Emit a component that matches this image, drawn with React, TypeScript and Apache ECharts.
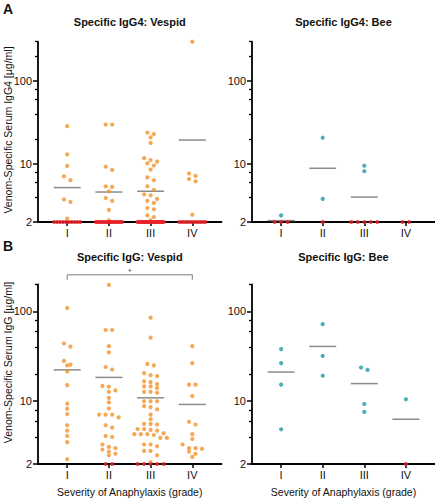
import React, { useEffect, useRef } from "react";
import * as echarts from "echarts";

const grades = ["I", "II", "III", "IV"];
const detectionLimit = 2;

// Panel A left: Specific IgG4 Vespid (values above detection limit)
const igg4VespidI = [28.7, 13.1, 9.5, 7.1, 6.4, 3.75, 3.5, 2.2];
const igg4VespidII = [30, 30, 9.3, 8.5, 5.4, 5.3, 4.7, 3.9, 3.6, 2.8, 2.1];
const igg4VespidIII = [24, 23, 21, 18, 11.8, 11.2, 10.7, 10.2, 9.6, 8.6, 6.9, 6.4, 5.4, 4.9, 4.3, 4.2, 3.8, 3.6, 3.4, 2.95, 2.85, 2.4, 2.3, 2.1];
const igg4VespidIV = [300, 7.7, 7.2, 6.6, 6.2, 2.45];
const igg4VespidBelow = [10, 20, 30, 12];
const igg4VespidMean = [5.2, 4.6, 4.7, 19.5];

// Panel A right: Specific IgG4 Bee
const igg4BeeI = [2.4];
const igg4BeeII = [20.8, 3.8];
const igg4BeeIII = [9.55, 8.2];
const igg4BeeIV: number[] = [];
const igg4BeeBelow = [3, 1, 5, 2];
const igg4BeeMean = [2.08, 8.9, 4.0, null];

// Panel B left: Specific IgG Vespid
const iggVespidI = [109, 44, 40.5, 28.1, 25.5, 25, 21.4, 15.1, 9.4, 8.25, 7.2, 5.4, 4.7, 4.1, 3.5, 2.26];
const iggVespidII = [197, 62, 62, 41, 35, 24, 22.5, 14.8, 14.5, 13.2, 12.7, 10.9, 9.7, 8.3, 7.1, 7.1, 7.1, 6.6, 5.4, 5.1, 4.1, 4.0, 3.3, 3.1, 3.0, 2.9, 2.75, 2.6, 2.5];
const iggVespidIII = [85, 51, 26, 25, 20.5, 19.5, 19, 16.6, 16.3, 15.5, 14.6, 14.6, 14, 12.7, 12.7, 12.4, 10, 10, 10, 8.8, 8.6, 8.1, 7.1, 6.3, 5.6, 5.6, 5.5, 4.9, 4.9, 4.8, 4.7, 4.4, 4.3, 4.3, 4.3, 4.2, 3.9, 3.9, 3.3, 3.3, 3.15, 2.8, 2.8, 2.5, 2.1];
const iggVespidIV = [41, 26.5, 15.3, 15.3, 11.4, 5.9, 5.5, 4.3, 3.8, 3.3, 3.0, 3.0, 2.95, 2.75, 2.6, 2.4];
const iggVespidBelow = [0, 2, 5, 0];
const iggVespidMean = [22.3, 18.4, 10.9, 9.2];

// Panel B right: Specific IgG Bee
const iggBeeI = [38, 26.5, 15.3, 4.87];
const iggBeeII = [72, 31.9, 19.2];
const iggBeeIII = [23.7, 22.3, 9.3, 7.6];
const iggBeeIV = [10.5];
const iggBeeBelow = [0, 0, 0, 1];
const iggBeeMean = [21.1, 40.7, 15.7, 6.3];

// Significance bracket (grade I vs IV, IgG Vespid)
const sigFrom = 1;
const sigTo = 4;
const sigLevel = 255;
const sigLabel = "*";

const yMajorTicks = [2, 10, 100];
const yMinorTicksTop = [4, 6, 8, 20, 40, 60, 80, 200, 300];
const yMinorTicksBottom = [4, 6, 8, 20, 40, 60, 80, 200];
const xTicks = [1, 2, 3, 4];

const ORANGE = "#F2922C";
const TEAL = "#1E9AA2";
const RED = "#E8232B";
const MEAN = "#6e6e6e";
const TEXT = "#111111";
const FONT = "'Liberation Sans', Arial, sans-serif";

const xMin = 0.3;
const xMax = 4.7;

const panels = [
  { title: "Specific IgG4: Vespid", values: [igg4VespidI, igg4VespidII, igg4VespidIII, igg4VespidIV], below: igg4VespidBelow, means: igg4VespidMean, color: ORANGE, max: 300, minor: yMinorTicksTop },
  { title: "Specific IgG4: Bee", values: [igg4BeeI, igg4BeeII, igg4BeeIII, igg4BeeIV], below: igg4BeeBelow, means: igg4BeeMean, color: TEAL, max: 300, minor: yMinorTicksTop },
  { title: "Specific IgG: Vespid", values: [iggVespidI, iggVespidII, iggVespidIII, iggVespidIV], below: iggVespidBelow, means: iggVespidMean, color: ORANGE, max: 200, minor: yMinorTicksBottom },
  { title: "Specific IgG: Bee", values: [iggBeeI, iggBeeII, iggBeeIII, iggBeeIV], below: iggBeeBelow, means: iggBeeMean, color: TEAL, max: 200, minor: yMinorTicksBottom },
];

const layouts = [
  { left: 38, top: 41.7, width: 183.5, height: 180.3, titleY: 22 },
  { left: 252, top: 41.7, width: 183, height: 180.3, titleY: 22 },
  { left: 38, top: 284.3, width: 183.5, height: 179.7, titleY: 256.5 },
  { left: 252, top: 284.3, width: 183, height: 179.7, titleY: 256.5 },
];

const DOT = 6.5; // horizontal spacing of neighbouring dots, px
const BIN = 4.5; // vertical row height, px

function rowOffsets(vals: number[], pxPerDecade: number): number[] {
  const idx = vals.map((_, i) => i).sort((a, b) => vals[b] - vals[a]);
  const out = new Array(vals.length).fill(0);
  let row: number[] = [];
  let rowStart: number | null = null;
  const flush = () => {
    row.forEach((i, j) => {
      out[i] = (j - (row.length - 1) / 2) * DOT;
    });
  };
  for (const i of idx) {
    const y = -Math.log10(vals[i]) * pxPerDecade;
    if (rowStart === null || y - rowStart >= BIN) {
      flush();
      row = [];
      rowStart = y;
    }
    row.push(i);
  }
  flush();
  return out;
}

function buildOption() {
  const grid: any[] = [];
  const xAxis: any[] = [];
  const yAxis: any[] = [];
  const series: any[] = [];
  const graphic: any[] = [];

  panels.forEach((p, pi) => {
    const g = layouts[pi];
    grid.push({ left: g.left, top: g.top, width: g.width, height: g.height });
    xAxis.push({
      type: "value",
      gridIndex: pi,
      min: xMin,
      max: xMax,
      axisLine: { show: true, onZero: false, lineStyle: { color: "#000", width: 1.8 } },
      axisTick: { show: true, length: 4, customValues: xTicks, lineStyle: { color: "#000", width: 1.5 } },
      axisLabel: {
        customValues: xTicks,
        margin: 5,
        fontSize: 11,
        color: TEXT,
        fontFamily: FONT,
        formatter: (v: number) => grades[Math.round(v) - 1] || "",
      },
      splitLine: { show: false },
    });
    yAxis.push({
      type: "log",
      logBase: 10,
      gridIndex: pi,
      position: "left",
      min: detectionLimit,
      max: p.max,
      axisLine: { show: true, onZero: false, lineStyle: { color: "#000", width: 1.8 } },
      axisTick: { show: true, length: 5, customValues: yMajorTicks, lineStyle: { color: "#000", width: 1.5 } },
      axisLabel: {
        customValues: yMajorTicks,
        margin: 6,
        fontSize: 11,
        color: TEXT,
        fontFamily: FONT,
        formatter: (v: number) => String(Math.round(v)),
      },
      splitLine: { show: false },
      minorTick: { show: false },
    });
    yAxis.push({
      type: "log",
      logBase: 10,
      gridIndex: pi,
      position: "left",
      offset: 0,
      min: detectionLimit,
      max: p.max,
      axisLine: { show: false },
      axisTick: { show: true, length: 3, customValues: p.minor, lineStyle: { color: "#000", width: 1.3 } },
      axisLabel: { show: false },
      splitLine: { show: false },
    });

    const pxPerDecade = g.height / Math.log10(p.max / detectionLimit);
    const pxPerUnit = g.width / (xMax - xMin);

    const pts: number[][] = [];
    p.values.forEach((vals, gi) => {
      const offs = rowOffsets(vals, pxPerDecade);
      vals.forEach((v, k) => pts.push([gi + 1 + offs[k] / pxPerUnit, v]));
    });
    const reds: number[][] = [];
    p.below.forEach((n, gi) => {
      const sp = n > 1 ? Math.min(DOT, 26 / (n - 1)) : 0;
      for (let k = 0; k < n; k++) reds.push([gi + 1 + ((k - (n - 1) / 2) * sp) / pxPerUnit, detectionLimit]);
    });
    const means = p.means
      .map((m, gi) => (m == null ? null : [gi + 1, m]))
      .filter((d) => d !== null);

    series.push({
      type: "scatter",
      xAxisIndex: pi,
      yAxisIndex: pi * 2,
      data: means,
      symbol: "rect",
      symbolSize: [27, 1.5],
      itemStyle: { color: MEAN },
      silent: true,
      clip: false,
      z: 3,
    });
    series.push({
      type: "scatter",
      xAxisIndex: pi,
      yAxisIndex: pi * 2,
      data: pts,
      symbol: "circle",
      symbolSize: 4.2,
      itemStyle: { color: p.color },
      silent: true,
      clip: false,
      z: 4,
    });
    series.push({
      type: "scatter",
      xAxisIndex: pi,
      yAxisIndex: pi * 2,
      data: reds,
      symbol: "circle",
      symbolSize: 4.2,
      itemStyle: { color: RED },
      silent: true,
      clip: false,
      z: 5,
    });

    graphic.push({
      type: "text",
      x: g.left + g.width / 2,
      y: g.titleY,
      style: {
        text: p.title,
        align: "center",
        verticalAlign: "middle",
        font: `bold 11px ${FONT}`,
        fill: TEXT,
      },
    });
  });

  // significance bracket on IgG Vespid panel
  series.push({
    type: "custom",
    xAxisIndex: 2,
    yAxisIndex: 4,
    clip: false,
    silent: true,
    encode: { x: [0, 1], y: 2 },
    data: [[sigFrom, sigTo, sigLevel]],
    renderItem: (params: any, api: any) => {
      const p1 = api.coord([api.value(0), api.value(2)]);
      const p2 = api.coord([api.value(1), api.value(2)]);
      return {
        type: "group",
        children: [
          {
            type: "polyline",
            shape: { points: [[p1[0], p1[1] + 5], [p1[0], p1[1]], [p2[0], p2[1]], [p2[0], p2[1] + 5]] },
            style: { stroke: "#7a7a7a", lineWidth: 1, fill: null },
          },
          {
            type: "text",
            x: (p1[0] + p2[0]) / 2,
            y: p1[1] + 1,
            style: { text: sigLabel, align: "center", verticalAlign: "bottom", font: `8px ${FONT}`, fill: "#333" },
          },
        ],
      };
    },
  });

  graphic.push(
    { type: "text", x: 3, y: 9, style: { text: "A", font: `bold 14px ${FONT}`, fill: TEXT, verticalAlign: "middle" } },
    { type: "text", x: 3, y: 246, style: { text: "B", font: `bold 14px ${FONT}`, fill: TEXT, verticalAlign: "middle" } },
    { type: "text", x: 8, y: 130, rotation: Math.PI / 2, style: { text: "Venom-Specific Serum IgG4 [µg/ml]", align: "center", verticalAlign: "middle", font: `10.5px ${FONT}`, fill: TEXT } },
    { type: "text", x: 8, y: 362.5, rotation: Math.PI / 2, style: { text: "Venom-Specific Serum IgG [µg/ml]", align: "center", verticalAlign: "middle", font: `10.5px ${FONT}`, fill: TEXT } },
    { type: "text", x: layouts[2].left + layouts[2].width / 2, y: 492, style: { text: "Severity of Anaphylaxis (grade)", align: "center", verticalAlign: "middle", font: `10.5px ${FONT}`, fill: TEXT } },
    { type: "text", x: layouts[3].left + layouts[3].width / 2, y: 492, style: { text: "Severity of Anaphylaxis (grade)", align: "center", verticalAlign: "middle", font: `10.5px ${FONT}`, fill: TEXT } }
  );

  return {
    animation: false,
    backgroundColor: "#fff",
    grid,
    xAxis,
    yAxis,
    series,
    graphic,
  };
}

export default function App() {
  const ref = useRef<HTMLDivElement>(null);
  useEffect(() => {
    if (!ref.current) return;
    const chart = echarts.init(ref.current, null, { renderer: "svg" });
    chart.setOption(buildOption() as any);
    return () => chart.dispose();
  }, []);
  return <div ref={ref} style={{ position: "absolute", left: 0, top: 0, width: 435, height: 500 }} />;
}
